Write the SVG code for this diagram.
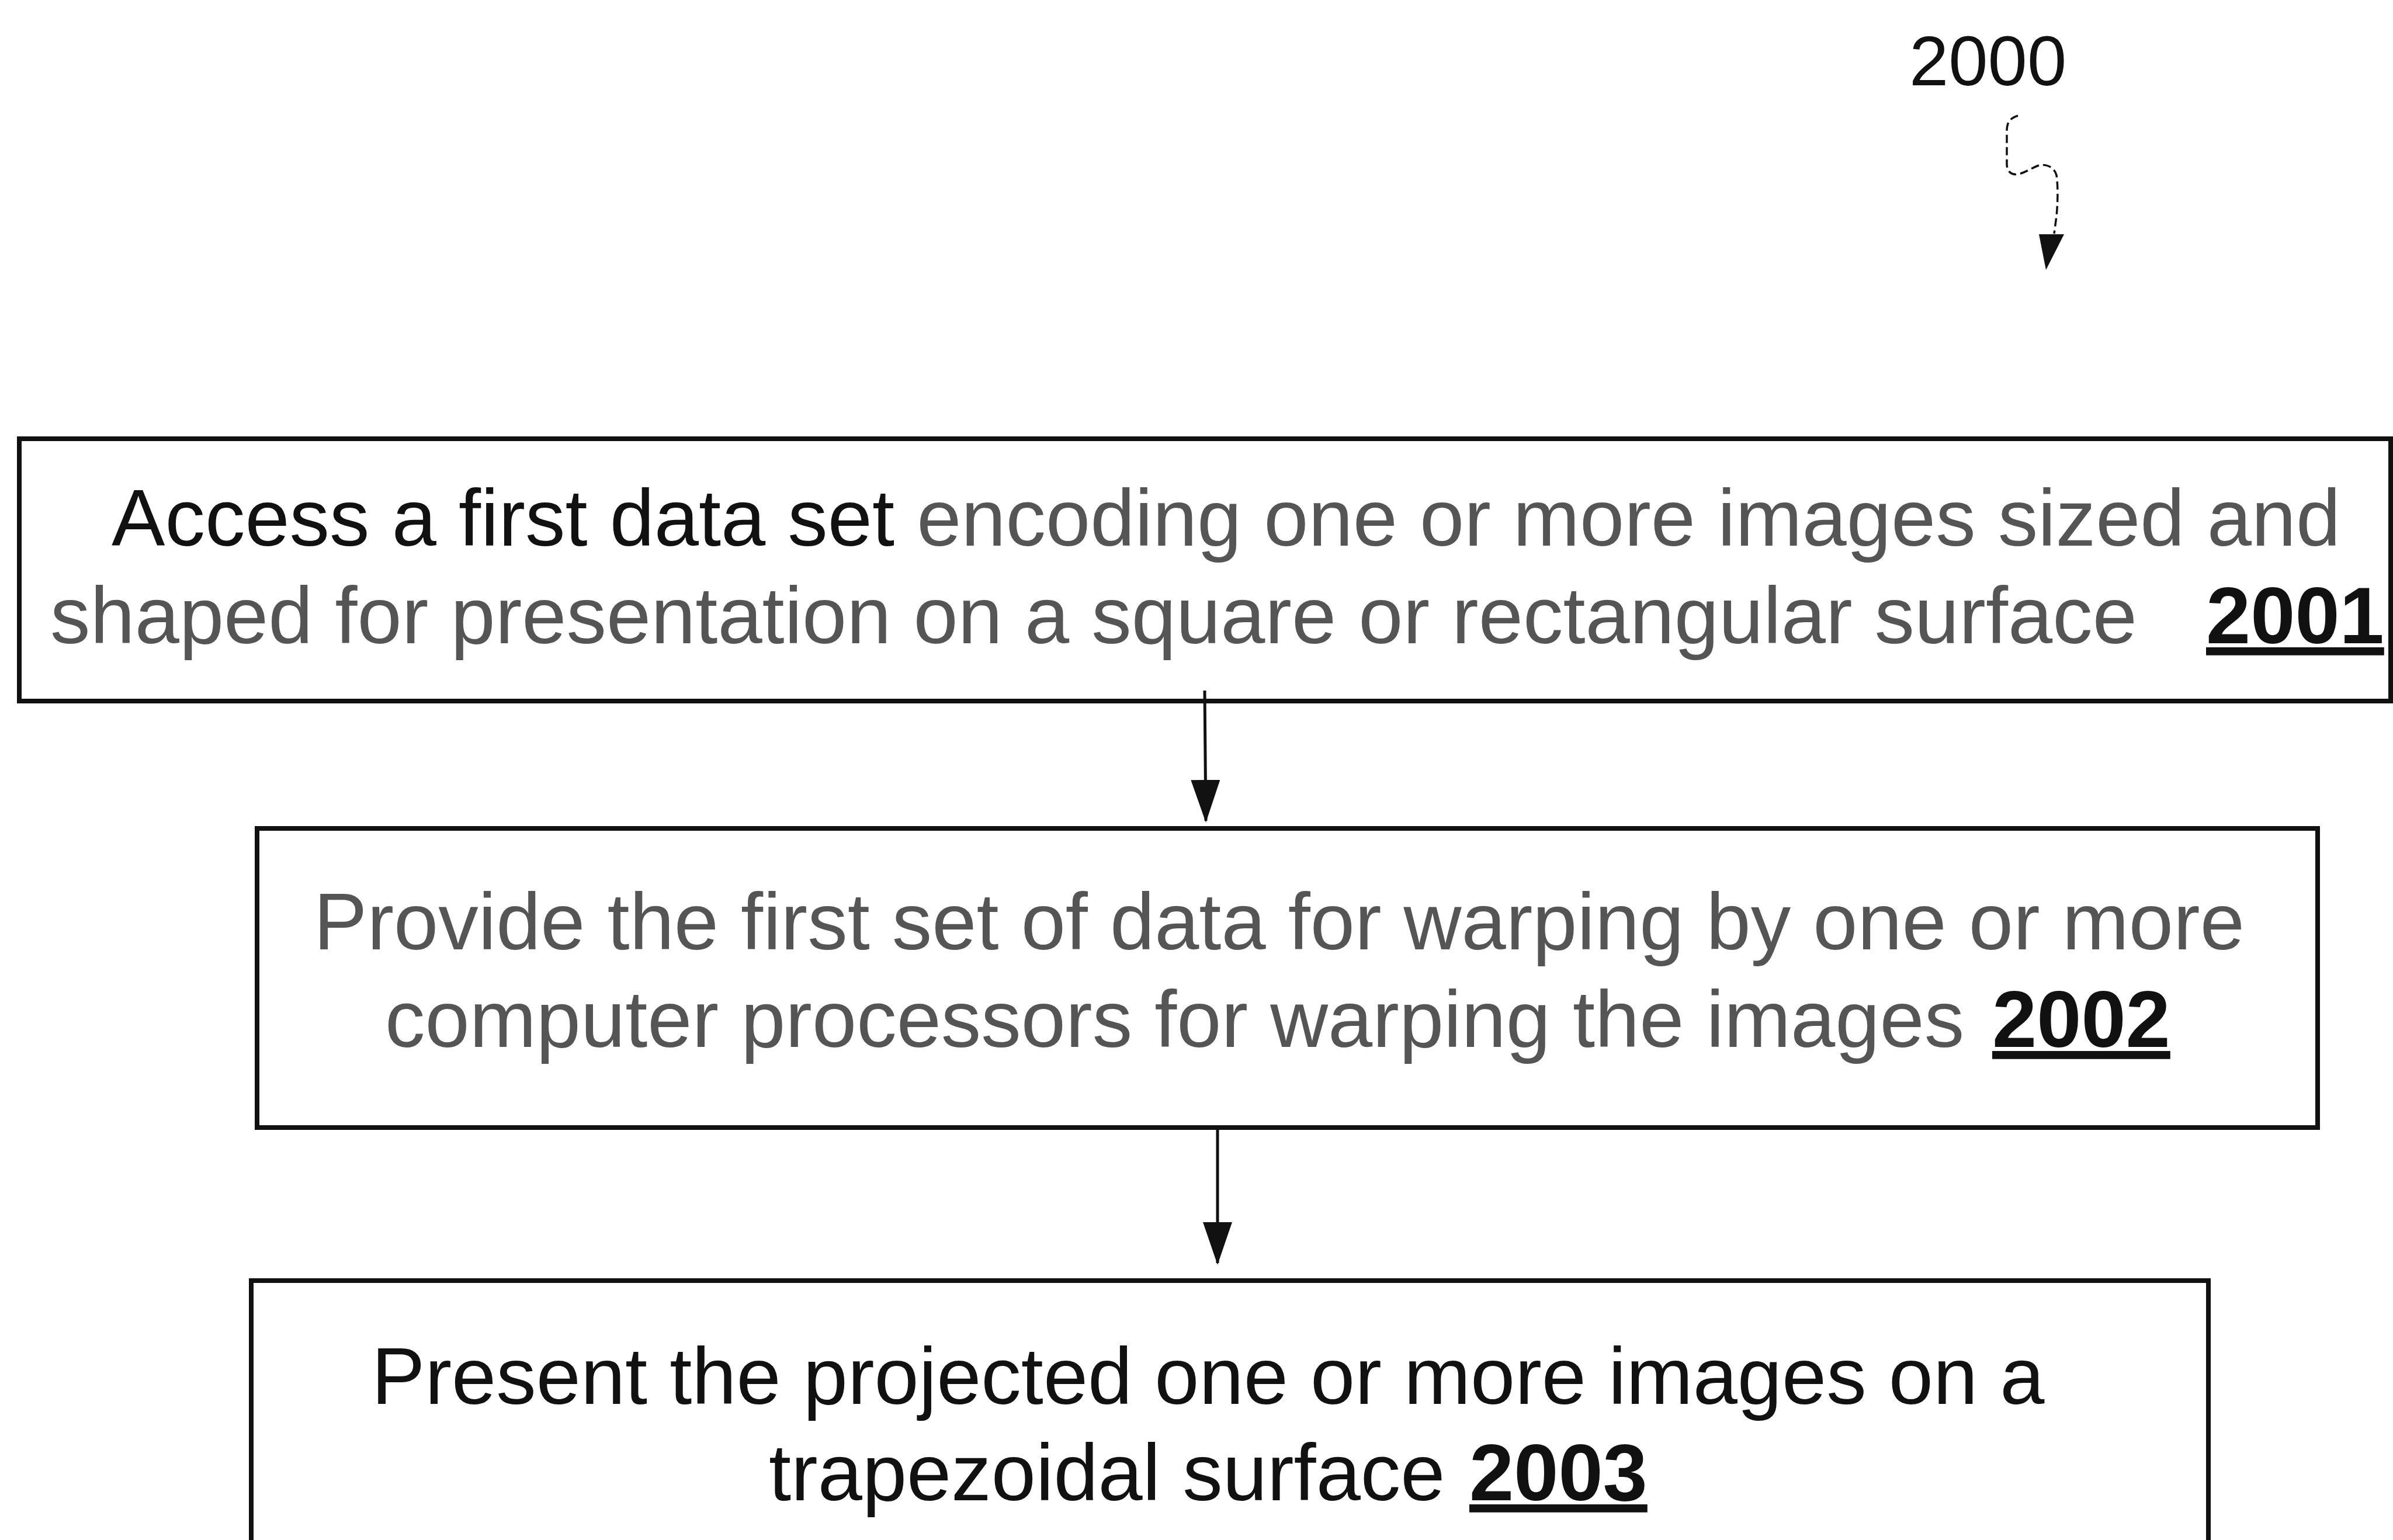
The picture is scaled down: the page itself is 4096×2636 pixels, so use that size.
<svg xmlns="http://www.w3.org/2000/svg" width="4096" height="2636" viewBox="0 0 4096 2636">
  <style>
    .box { fill: #ffffff; stroke: #111111; stroke-width: 8; }
    .txt { font-family: "Liberation Sans", Arial, sans-serif; font-size: 137px; }
    .dark { fill: #111111; }
    .grey { fill: #555555; }
    .ref { font-weight: bold; fill: #111111; text-decoration: underline; }
    .flow { stroke: #111111; stroke-width: 5; fill: none; }
    .lead { stroke: #111111; stroke-width: 3.5; fill: none; stroke-dasharray: 14 7; }
    .label { font-family: "Liberation Sans", Arial, sans-serif; font-size: 121px; fill: #111111; }
  </style>
  <defs>
    <marker id="head" markerUnits="userSpaceOnUse" viewBox="0 0 73 50" refX="70" refY="25" markerWidth="73" markerHeight="50" orient="auto">
      <path d="M0,0 L73,25 L0,50 Z" fill="#111111"/>
    </marker>
  </defs>
  <rect width="4096" height="2636" fill="#ffffff"/>

  <!-- figure number with its leader -->
  <g id="fig-label">
    <text class="label" x="3268" y="146">2000</text>
    <path class="lead" d="M3454,198 C3438,203 3435,212 3435,225 L3435,282 C3436,296 3445,300 3455,298 C3468,295 3478,287 3490,283 C3505,280 3517,288 3520,300 C3523,320 3522,350 3520,370 L3516,400"/>
    <polygon points="3490,401 3533,401 3502,462" fill="#111111"/>
  </g>

  <!-- step 2001 -->
  <g id="step-2001">
    <rect class="box" x="33" y="751" width="4059" height="449"/>
    <text class="txt" x="191" y="934"><tspan class="dark">Access a first data set </tspan><tspan class="grey">encoding one or more images sized and</tspan></text>
    <text class="txt grey" x="86" y="1101">shaped for presentation on a square or rectangular surface</text>
    <text class="txt ref" x="3776" y="1101">2001</text>
  </g>

  <!-- step 2002 -->
  <g id="step-2002">
    <rect class="box" x="440" y="1418" width="3527" height="512"/>
    <text class="txt grey" x="537" y="1625">Provide the first set of data for warping by one or more</text>
    <text class="txt grey" x="659" y="1792">computer processors for warping the images</text>
    <text class="txt ref" x="3410" y="1792">2002</text>
  </g>

  <!-- step 2003 -->
  <g id="step-2003">
    <rect class="box" x="430" y="2192" width="3350" height="520"/>
    <text class="txt dark" x="636" y="2403">Present the projected one or more images on a</text>
    <text class="txt dark" x="1316" y="2568">trapezoidal surface</text>
    <text class="txt ref" x="2515" y="2568">2003</text>
  </g>

  <!-- flow connectors -->
  <g id="connectors">
    <line class="flow" x1="2062" y1="1182" x2="2064" y2="1405" marker-end="url(#head)"/>
    <line class="flow" x1="2084" y1="1930" x2="2084" y2="2162" marker-end="url(#head)"/>
  </g>
</svg>
